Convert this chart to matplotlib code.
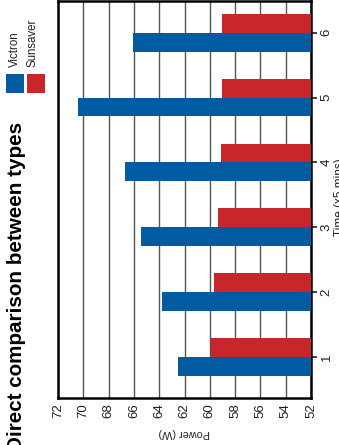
import matplotlib
matplotlib.use("Agg")
import matplotlib.pyplot as plt
from matplotlib.patches import Rectangle
import numpy as np

plt.rcParams['font.family'] = ['Liberation Sans', 'DejaVu Sans']

categories = [1, 2, 3, 4, 5, 6]
victron = [62.5, 63.8, 65.4, 66.7, 70.4, 66.1]
sunsaver = [59.9, 59.7, 59.35, 59.1, 59.0, 59.0]
power_ticks = [72, 70, 68, 66, 64, 62, 60, 58, 56, 54, 52]
series_names = ["Victron", "Sunsaver"]
title = "Direct comparison between types"
x_label = "Time (x5 mins)"
y_label = "Power (W)"

blue = "#005BA0"
red = "#C8262A"
W, H = 339, 445
fig = plt.figure(figsize=(W / 100, H / 100), dpi=100)
ax = fig.add_axes([58 / W, 1 - 398 / H, (311 - 58) / W, (398 - 1) / H])

base = 52
bh = 0.29
y = np.array(categories, dtype=float)
ax.barh(y - bh / 2, np.array(victron) - base, left=base, height=bh, color=blue, zorder=3)
ax.barh(y + bh / 2, np.array(sunsaver) - base, left=base, height=bh, color=red, zorder=3)

ax.set_xlim(72, 52)
ax.set_ylim(0.367, 6.49)
ax.set_xticks(power_ticks)
ax.set_xticklabels([str(t) for t in power_ticks], rotation=90, fontsize=9.5)
ax.tick_params(axis='x', length=0, pad=4, colors='#222222')
ax.grid(axis='x', color='#555555', linewidth=1.0, zorder=1)
ax.set_axisbelow(True)

ax.yaxis.tick_right()
ax.set_yticks(categories)
ax.set_yticklabels([str(c) for c in categories], rotation=90, fontsize=9.5, va='center')
ax.tick_params(axis='y', length=4, width=1.2, pad=3, colors='#222222')

for s in ax.spines.values():
    s.set_linewidth(1.8)
    s.set_color('black')

ax.set_xlabel(y_label, rotation=180, fontsize=7.8, labelpad=7, color='#222222')

fig.text(340.5 / W, 1 - 197 / H, x_label, rotation=90, ha='center', va='center',
         fontsize=8.5, color='#222222')

fig.text(16.5 / W, 1 - 122 / H, title, rotation=90, ha='center', va='top',
         fontsize=14.9, fontweight='bold', color='black')

# legend
fig.patches.append(Rectangle((6 / W, 1 - 93 / H), 18 / W, 19 / H, transform=fig.transFigure,
                             facecolor=blue, edgecolor='none'))
fig.patches.append(Rectangle((27 / W, 1 - 93 / H), 18 / W, 19 / H, transform=fig.transFigure,
                             facecolor=red, edgecolor='none'))
fig.text(15 / W, 1 - 67 / H, series_names[0], rotation=90, ha='center', va='bottom',
         fontsize=8.3, color='#222222')
fig.text(33 / W, 1 - 67 / H, series_names[1], rotation=90, ha='center', va='bottom',
         fontsize=8.3, color='#222222')

fig.savefig("out.png", dpi=100)
